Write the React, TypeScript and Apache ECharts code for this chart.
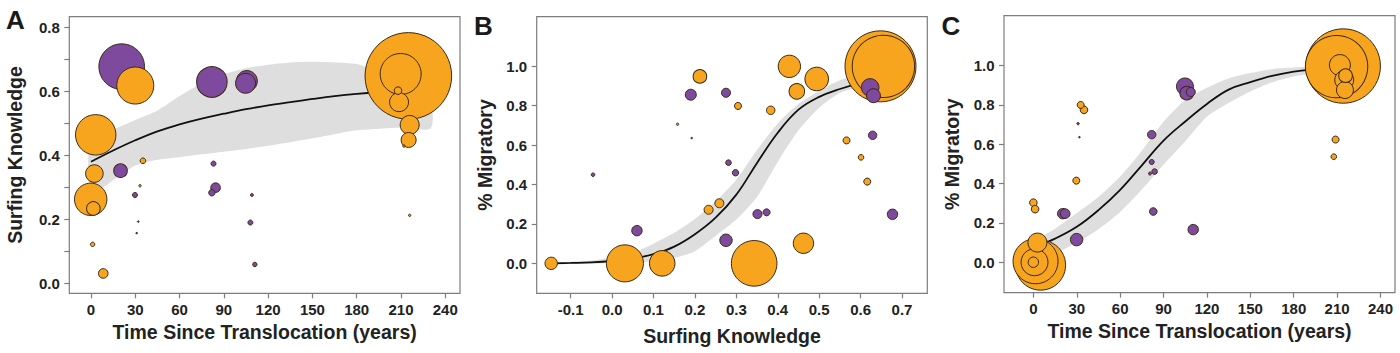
import React, { useEffect, useRef } from "react";
import * as echarts from "echarts";

const FONT = '"Liberation Sans", Arial, Helvetica, sans-serif';
const ORANGE = "#F7A51F";
const PURPLE = "#7D4A9E";
const EDGE = "#3a2913";
const BAND = "#DEDEDE";
const FRAME = "#7d7d7d";
const TEXT = "#222222";

// ---------- Panel A : Surfing Knowledge vs Time Since Translocation ----------
// [x, y, radius]
const panelAOrange: number[][] = [
  [30, 0.618, 19], [215, 0.648, 43.8], [209.8, 0.654, 21], [208, 0.602, 4.3],
  [208.7, 0.566, 10], [215.9, 0.495, 10], [215.2, 0.448, 8], [212, 0.429, 1.7],
  [215.9, 0.2125, 1.7], [3.2, 0.464, 20.7], [2.3, 0.343, 9.3], [-0.2, 0.2625, 16.7],
  [1.6, 0.234, 7.3], [1.1, 0.122, 2.7], [8.3, 0.031, 5.3], [35.2, 0.383, 3.3],
  [33.2, 0.305, 1.7],
];
const panelAPurple: number[][] = [
  [20.8, 0.677, 23.3], [81.9, 0.629, 15.8], [104.7, 0.625, 10.5], [105.6, 0.632, 11],
  [20, 0.352, 7.3], [29.8, 0.276, 3], [32, 0.193, 1], [30.9, 0.157, 1],
  [83, 0.374, 3], [84.4, 0.299, 5.3], [81.9, 0.283, 3.7], [109, 0.276, 2],
  [108, 0.19, 3], [111, 0.059, 2.7],
];
const curveAX = [0, 15, 30, 45, 60, 75, 90, 105, 120, 135, 150, 165, 180, 195, 210, 230];
const curveAY = [0.38, 0.415, 0.447, 0.475, 0.497, 0.515, 0.53, 0.544, 0.556, 0.566, 0.576, 0.585, 0.592, 0.597, 0.6, 0.6];
const bandAUpper = [0.455, 0.48, 0.51, 0.54, 0.585, 0.625, 0.653, 0.672, 0.683, 0.69, 0.692, 0.69, 0.685, 0.66, 0.62, 0.56];
const bandALower = [0.28, 0.322, 0.368, 0.386, 0.394, 0.403, 0.411, 0.42, 0.43, 0.441, 0.453, 0.466, 0.478, 0.483, 0.486, 0.484];
const xTicksA = [0, 30, 60, 90, 120, 150, 180, 210, 240];
const yTicksA = [0, 0.1, 0.2, 0.3, 0.4, 0.5, 0.6, 0.7, 0.8];
const yLabelsA = [0, 0.2, 0.4, 0.6, 0.8];

// ---------- Panel B : % Migratory vs Surfing Knowledge ----------
const panelBOrange: number[][] = [
  [-0.147, 0, 6.7], [0.031, 0, 19], [0.121, 0, 13.3], [0.343, 0, 23.3],
  [0.462, 0.102, 10.7], [0.233, 0.272, 5], [0.259, 0.305, 5], [0.616, 0.415, 4],
  [0.601, 0.538, 3.3], [0.566, 0.624, 4], [0.158, 0.706, 1.7], [0.212, 0.949, 7.3],
  [0.304, 0.799, 4], [0.383, 0.777, 4.7], [0.428, 1.0, 11.7], [0.446, 0.873, 8.3],
  [0.494, 0.936, 12.3], [0.648, 1.0, 36], [0.655, 1.0, 31.7],
];
const panelBPurple: number[][] = [
  [0.275, 0.117, 6.7], [0.06, 0.166, 5.7], [0.351, 0.25, 5], [0.373, 0.259, 4],
  [0.677, 0.249, 5.7], [-0.046, 0.45, 2.3], [0.281, 0.511, 3.3], [0.298, 0.46, 3.7],
  [0.629, 0.65, 4.7], [0.192, 0.636, 1], [0.19, 0.856, 6], [0.275, 0.866, 5],
  [0.623, 0.893, 9.3], [0.631, 0.851, 7.5],
];
const curveBX = [-0.15, -0.1, -0.05, 0, 0.05, 0.1, 0.15, 0.2, 0.25, 0.3, 0.35, 0.4, 0.45, 0.5, 0.55, 0.6, 0.63];
const curveBY = [0, 0.002, 0.005, 0.012, 0.024, 0.047, 0.085, 0.148, 0.232, 0.349, 0.51, 0.663, 0.78, 0.845, 0.885, 0.915, 0.925];
const bandBUpper = [0.004, 0.008, 0.015, 0.03, 0.055, 0.1, 0.155, 0.225, 0.315, 0.425, 0.575, 0.71, 0.81, 0.875, 0.93, 0.955, 0.965];
const bandBLower = [-0.004, -0.003, -0.002, 0, 0.004, 0.012, 0.028, 0.062, 0.14, 0.222, 0.338, 0.515, 0.675, 0.79, 0.865, 0.895, 0.905];
const xTicksB = [-0.1, 0, 0.1, 0.2, 0.3, 0.4, 0.5, 0.6, 0.7];
const yTicksB = [0, 0.2, 0.4, 0.6, 0.8, 1.0];

// ---------- Panel C : % Migratory vs Time Since Translocation ----------
const panelCOrange: number[][] = [
  [5, -0.015, 25.5], [1.5, 0.005, 23], [0.8, 0, 14], [0, 0, 5.7], [2.8, 0.1, 10],
  [0, 0.303, 4.3], [1.2, 0.27, 4.3], [29.7, 0.415, 4], [32.7, 0.8, 4], [35, 0.775, 4.3],
  [214.2, 0.998, 37.7], [209.6, 0.995, 31.7], [211.9, 1.003, 11], [214.9, 0.927, 10],
  [215.8, 0.949, 7.3], [215.4, 0.876, 9], [208.9, 0.624, 4], [207.7, 0.537, 3.3],
];
const panelCPurple: number[][] = [
  [20.3, 0.247, 5.7], [22, 0.247, 5.3], [29.9, 0.115, 6.7], [30.9, 0.705, 1.7],
  [31.8, 0.636, 1], [81.8, 0.649, 4.7], [81.8, 0.51, 3], [83.8, 0.461, 3.3],
  [80.6, 0.451, 2], [82.9, 0.258, 4.3], [110.5, 0.166, 5.7], [104.8, 0.894, 9],
  [106, 0.86, 7.3], [108.8, 0.866, 5],
];
const curveCX = [0, 15, 30, 45, 60, 75, 90, 105, 120, 135, 150, 165, 180, 195, 210, 215];
const curveCY = [0.075, 0.12, 0.18, 0.265, 0.368, 0.493, 0.619, 0.716, 0.805, 0.878, 0.916, 0.948, 0.97, 0.982, 0.99, 0.991];
const bandCUpper = [0.1, 0.17, 0.25, 0.332, 0.436, 0.567, 0.714, 0.825, 0.888, 0.935, 0.962, 0.982, 0.99, 0.995, 0.998, 0.998];
const bandCLower = [0.03, 0.045, 0.1, 0.168, 0.256, 0.37, 0.496, 0.615, 0.74, 0.81, 0.868, 0.915, 0.945, 0.96, 0.97, 0.97];
const xTicksC = [0, 30, 60, 90, 120, 150, 180, 210, 240];
const yTicksC = [0, 0.2, 0.4, 0.6, 0.8, 1.0];

const fmt1 = (v: number) => (Math.abs(v) < 1e-9 ? "0.0" : v.toFixed(1));

function bubbles(idx: number, orange: number[][], purple: number[][]) {
  const data = [
    ...orange.map((d) => ({ value: d, itemStyle: { color: ORANGE } })),
    ...purple.map((d) => ({ value: d, itemStyle: { color: PURPLE } })),
  ].sort((a, b) => b.value[2] - a.value[2]);
  return {
    type: "scatter",
    xAxisIndex: idx,
    yAxisIndex: idx,
    data,
    symbol: "circle",
    symbolSize: (v: number[]) => Math.max(v[2] * 2 - 1, 1.5),
    itemStyle: { borderColor: EDGE, borderWidth: 1, opacity: 1 },
    clip: false,
    silent: true,
    z: 4,
  };
}

function band(idx: number, xs: number[], up: number[], lo: number[]) {
  return {
    type: "custom",
    xAxisIndex: idx,
    yAxisIndex: idx,
    silent: true,
    z: 1,
    data: [[xs[0], up[0]]],
    renderItem: (_p: any, api: any) => {
      const top = xs.map((x, i) => api.coord([x, up[i]]));
      const bot = xs.map((x, i) => api.coord([x, lo[i]])).reverse();
      return {
        type: "polygon",
        shape: { points: top.concat(bot), smooth: 0.25 },
        style: { fill: BAND, stroke: "none" },
      };
    },
  };
}

function curve(idx: number, xs: number[], ys: number[]) {
  return {
    type: "line",
    xAxisIndex: idx,
    yAxisIndex: idx,
    data: xs.map((x, i) => [x, ys[i]]),
    smooth: 0.4,
    symbol: "none",
    silent: true,
    lineStyle: { color: "#111", width: 1.8 },
    z: 2,
  };
}

const tickLabel = {
  fontSize: 15,
  fontWeight: "bold" as const,
  color: TEXT,
  fontFamily: FONT,
};
const nameStyle = {
  fontSize: 19.5,
  fontWeight: "bold" as const,
  color: TEXT,
  fontFamily: FONT,
};

function xAxis(idx: number, min: number, max: number, ticks: number[], name: string, gap: number, decimals: boolean) {
  return {
    type: "value",
    gridIndex: idx,
    position: "bottom",
    min,
    max,
    splitLine: { show: false },
    axisLine: { show: false, onZero: false },
    axisTick: { show: true, inside: false, length: 5, customValues: ticks, lineStyle: { color: FRAME, width: 1.2 } },
    axisLabel: {
      ...tickLabel,
      margin: 8.5,
      customValues: ticks,
      formatter: (v: number) => (decimals ? fmt1(v) : String(Math.round(v))),
    },
    name,
    nameLocation: "middle",
    nameGap: gap,
    nameTextStyle: nameStyle,
  };
}

function yAxis(idx: number, min: number, max: number, ticks: number[], labels: number[], name: string, gap: number) {
  return {
    type: "value",
    gridIndex: idx,
    position: "left",
    min,
    max,
    splitLine: { show: false },
    axisLine: { show: false, onZero: false },
    axisTick: { show: true, inside: false, length: 5, customValues: ticks, lineStyle: { color: FRAME, width: 1.2 } },
    axisLabel: { ...tickLabel, margin: 9.5, customValues: labels, formatter: fmt1 },
    name,
    nameLocation: "middle",
    nameGap: gap,
    nameTextStyle: nameStyle,
  };
}

function panelLetter(text: string, x: number, y: number) {
  return {
    type: "text",
    left: x,
    top: y,
    style: {
      text,
      fill: "#1a1a1a",
      font: 'bold 26px "Liberation Sans Narrow", "Liberation Sans", Arial, sans-serif',
    },
  };
}

export default function App() {
  const ref = useRef<HTMLDivElement>(null);
  useEffect(() => {
    document.body.style.margin = "0";
    if (!ref.current) return;
    const chart = echarts.init(ref.current, undefined, { renderer: "svg" });
    const gridBase = { show: true, borderColor: FRAME, borderWidth: 1.2, backgroundColor: "transparent", containLabel: false };
    chart.setOption({
      animation: false,
      backgroundColor: "#ffffff",
      textStyle: { fontFamily: FONT },
      grid: [
        { ...gridBase, left: 69.3, top: 16.7, width: 390.7, height: 276.6 },
        { ...gridBase, left: 536.7, top: 16.7, width: 390.6, height: 276.6 },
        { ...gridBase, left: 1004, top: 15.7, width: 391, height: 277 },
      ],
      xAxis: [
        xAxis(0, -14.7, 250, xTicksA, "Time Since Translocation (years)", 29, false),
        xAxis(1, -0.182, 0.761, xTicksB, "Surfing Knowledge", 33, true),
        xAxis(2, -20.3, 250, xTicksC, "Time Since Translocation (years)", 28, false),
      ],
      yAxis: [
        yAxis(0, -0.031, 0.833, yTicksA, yLabelsA, "Surfing Knowledge", 44),
        yAxis(1, -0.152, 1.252, yTicksB, yTicksB, "% Migratory", 42),
        yAxis(2, -0.155, 1.254, yTicksC, yTicksC, "% Migratory", 42),
      ],
      graphic: [panelLetter("A", 6, 6.5), panelLetter("B", 474, 13.2), panelLetter("C", 941.5, 13.2)],
      series: [
        band(0, curveAX, bandAUpper, bandALower),
        curve(0, curveAX, curveAY),
        bubbles(0, panelAOrange, panelAPurple),
        band(1, curveBX, bandBUpper, bandBLower),
        curve(1, curveBX, curveBY),
        bubbles(1, panelBOrange, panelBPurple),
        band(2, curveCX, bandCUpper, bandCLower),
        curve(2, curveCX, curveCY),
        bubbles(2, panelCOrange, panelCPurple),
      ],
    });
    return () => chart.dispose();
  }, []);
  return <div ref={ref} style={{ width: 1400, height: 353 }} />;
}
